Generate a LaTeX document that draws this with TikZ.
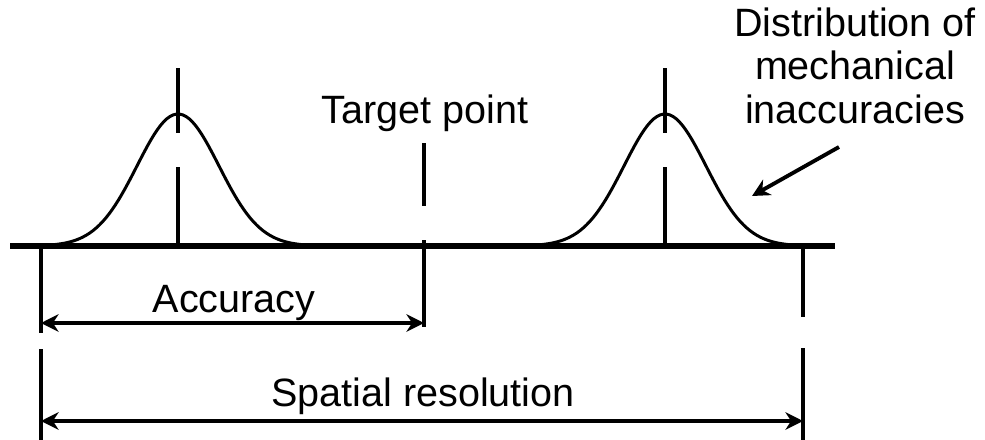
\documentclass[tikz,border=0pt]{standalone}
\usepackage{fontspec}
\setmainfont{Liberation Sans}
\usepackage{tikz}
\usetikzlibrary{arrows.meta}
\tikzset{
  axisline/.style={line width=3.8pt},
  tickline/.style={line width=2.2pt},
  curveline/.style={line width=1.7pt},
  dimarrow/.style={line width=2.2pt, {Stealth[length=10pt,width=10pt]}-{Stealth[length=10pt,width=10pt]}},
  pointer/.style={line width=2.2pt, -{Stealth[length=10pt,width=10pt]}},
  lbl/.style={font=\fontsize{22.5}{25}\selectfont, inner sep=0pt},
}

\begin{document}
\begin{tikzpicture}[x=0.02cm, y=-0.02cm]
        \useasboundingbox (0,0) rectangle (985,440);

        % Basislijn
        \draw[axisline] (10,246) -- (835,246);

        % Verdelingen (Gauss) met middenlijn
        \foreach \c in {178, 665} {
            \pgfmathsetmacro{\lo}{\c-143}
            \pgfmathsetmacro{\hi}{\c+143}
            \draw[curveline, domain=\lo:\hi, samples=90]
                plot (\x, {246 - 132*exp(-((\x-\c)/41)*((\x-\c)/41)/2)});
            \draw[tickline] (\c,68) -- (\c,133);
            \draw[tickline] (\c,167) -- (\c,246);
        }

        % Maatlijnen
        \draw[tickline] (41,246) -- (41,333);
        \draw[tickline] (41,349) -- (41,440);
        \draw[tickline] (803,246) -- (803,317);
        \draw[tickline] (803,348) -- (803,440);
        \draw[tickline] (424,143) -- (424,206);
        \draw[tickline] (424,240) -- (424,327);

        % Labels
        \node[lbl, anchor=base] (target) at (425,123) {Target point};
        \node[lbl, anchor=base] (acc) at (234,312) {Accuracy};
        \node[lbl, anchor=base] (spatial) at (423,406) {Spatial resolution};
        \node[lbl, anchor=north, align=center] (distr) at (855,7)
            {Distribution of\\mechanical\\inaccuracies};

        % Pijlen
        \coordinate (accL) at (41,323);
        \coordinate (accR) at (424,323);
        \draw[dimarrow] (accL) -- (accR);
        \coordinate (resL) at (41,421);
        \coordinate (resR) at (803,421);
        \draw[dimarrow] (resL) -- (resR);
        \coordinate (ptail) at (839,147);
        \coordinate (ptip) at (752,196);
        \draw[pointer] (ptail) -- (ptip);
    \end{tikzpicture}
\end{document}
